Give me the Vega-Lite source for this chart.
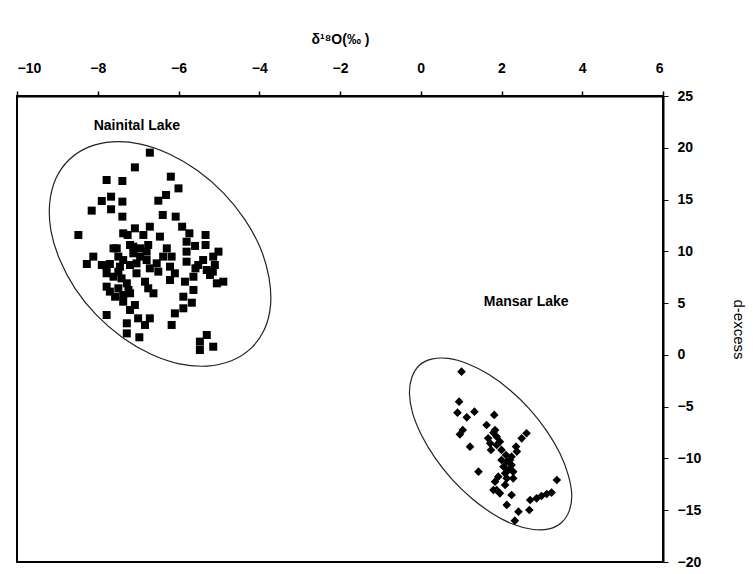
{
  "$schema": "https://vega.github.io/schema/vega-lite/v6.json",
  "width": 646,
  "height": 466,
  "autosize": "none",
  "padding": {"left": 17, "top": 96, "right": 90, "bottom": 12},
  "background": "white",
  "config": {
    "view": {"stroke": "black", "strokeWidth": 2},
    "font": "Liberation Sans"
  },
  "datasets": {
    "ellipse": [
      {"g": "N", "o": 0, "x": -4.20, "y": 0.65},
      {"g": "N", "o": 1, "x": -4.69, "y": -0.57},
      {"g": "N", "o": 2, "x": -5.29, "y": -1.08},
      {"g": "N", "o": 3, "x": -5.98, "y": -0.86},
      {"g": "N", "o": 4, "x": -6.69, "y": 0.09},
      {"g": "N", "o": 5, "x": -7.39, "y": 1.69},
      {"g": "N", "o": 6, "x": -8.03, "y": 3.84},
      {"g": "N", "o": 7, "x": -8.56, "y": 6.40},
      {"g": "N", "o": 8, "x": -8.94, "y": 9.18},
      {"g": "N", "o": 9, "x": -9.16, "y": 12.00},
      {"g": "N", "o": 10, "x": -9.19, "y": 14.67},
      {"g": "N", "o": 11, "x": -9.04, "y": 17.00},
      {"g": "N", "o": 12, "x": -8.71, "y": 18.84},
      {"g": "N", "o": 13, "x": -8.23, "y": 20.06},
      {"g": "N", "o": 14, "x": -7.63, "y": 20.57},
      {"g": "N", "o": 15, "x": -6.94, "y": 20.35},
      {"g": "N", "o": 16, "x": -6.23, "y": 19.40},
      {"g": "N", "o": 17, "x": -5.53, "y": 17.80},
      {"g": "N", "o": 18, "x": -4.89, "y": 15.64},
      {"g": "N", "o": 19, "x": -4.36, "y": 13.08},
      {"g": "N", "o": 20, "x": -3.97, "y": 10.30},
      {"g": "N", "o": 21, "x": -3.76, "y": 7.48},
      {"g": "N", "o": 22, "x": -3.72, "y": 4.81},
      {"g": "N", "o": 23, "x": -3.87, "y": 2.48},
      {"g": "M", "o": 0, "x": 3.49, "y": -16.18},
      {"g": "M", "o": 1, "x": 3.18, "y": -16.80},
      {"g": "M", "o": 2, "x": 2.78, "y": -16.86},
      {"g": "M", "o": 3, "x": 2.29, "y": -16.36},
      {"g": "M", "o": 4, "x": 1.78, "y": -15.33},
      {"g": "M", "o": 5, "x": 1.26, "y": -13.84},
      {"g": "M", "o": 6, "x": 0.77, "y": -11.99},
      {"g": "M", "o": 7, "x": 0.35, "y": -9.92},
      {"g": "M", "o": 8, "x": 0.02, "y": -7.75},
      {"g": "M", "o": 9, "x": -0.20, "y": -5.64},
      {"g": "M", "o": 10, "x": -0.28, "y": -3.73},
      {"g": "M", "o": 11, "x": -0.22, "y": -2.16},
      {"g": "M", "o": 12, "x": -0.04, "y": -1.02},
      {"g": "M", "o": 13, "x": 0.27, "y": -0.41},
      {"g": "M", "o": 14, "x": 0.68, "y": -0.34},
      {"g": "M", "o": 15, "x": 1.16, "y": -0.85},
      {"g": "M", "o": 16, "x": 1.68, "y": -1.88},
      {"g": "M", "o": 17, "x": 2.20, "y": -3.37},
      {"g": "M", "o": 18, "x": 2.69, "y": -5.21},
      {"g": "M", "o": 19, "x": 3.11, "y": -7.29},
      {"g": "M", "o": 20, "x": 3.44, "y": -9.46},
      {"g": "M", "o": 21, "x": 3.65, "y": -11.57},
      {"g": "M", "o": 22, "x": 3.74, "y": -13.48},
      {"g": "M", "o": 23, "x": 3.68, "y": -15.04}
    ],
    "points": [
      {"lake": "Nainital", "x": -6.71, "y": 19.53},
      {"lake": "Nainital", "x": -7.08, "y": 18.11},
      {"lake": "Nainital", "x": -7.78, "y": 16.89},
      {"lake": "Nainital", "x": -7.39, "y": 16.79},
      {"lake": "Nainital", "x": -6.19, "y": 17.21},
      {"lake": "Nainital", "x": -6.00, "y": 16.08},
      {"lake": "Nainital", "x": -7.67, "y": 15.28},
      {"lake": "Nainital", "x": -7.90, "y": 14.86},
      {"lake": "Nainital", "x": -7.39, "y": 14.80},
      {"lake": "Nainital", "x": -6.50, "y": 14.89},
      {"lake": "Nainital", "x": -6.31, "y": 15.44},
      {"lake": "Nainital", "x": -8.15, "y": 13.93},
      {"lake": "Nainital", "x": -7.67, "y": 14.06},
      {"lake": "Nainital", "x": -7.39, "y": 13.35},
      {"lake": "Nainital", "x": -6.39, "y": 13.51},
      {"lake": "Nainital", "x": -6.07, "y": 13.35},
      {"lake": "Nainital", "x": -8.48, "y": 11.58},
      {"lake": "Nainital", "x": -7.37, "y": 11.74},
      {"lake": "Nainital", "x": -7.08, "y": 12.22},
      {"lake": "Nainital", "x": -6.71, "y": 12.38},
      {"lake": "Nainital", "x": -6.87, "y": 11.58},
      {"lake": "Nainital", "x": -5.91, "y": 12.38},
      {"lake": "Nainital", "x": -5.73, "y": 11.74},
      {"lake": "Nainital", "x": -5.33, "y": 11.58},
      {"lake": "Nainital", "x": -7.26, "y": 11.58},
      {"lake": "Nainital", "x": -7.53, "y": 10.29},
      {"lake": "Nainital", "x": -7.20, "y": 10.61},
      {"lake": "Nainital", "x": -6.75, "y": 10.61},
      {"lake": "Nainital", "x": -6.29, "y": 10.29},
      {"lake": "Nainital", "x": -5.80, "y": 10.93},
      {"lake": "Nainital", "x": -5.59, "y": 10.52},
      {"lake": "Nainital", "x": -5.33, "y": 10.61},
      {"lake": "Nainital", "x": -5.01, "y": 9.97},
      {"lake": "Nainital", "x": -8.11, "y": 9.49},
      {"lake": "Nainital", "x": -8.27, "y": 8.78},
      {"lake": "Nainital", "x": -7.90, "y": 8.68},
      {"lake": "Nainital", "x": -7.70, "y": 8.78},
      {"lake": "Nainital", "x": -7.49, "y": 9.49},
      {"lake": "Nainital", "x": -7.12, "y": 9.81},
      {"lake": "Nainital", "x": -6.95, "y": 9.49},
      {"lake": "Nainital", "x": -6.79, "y": 9.16},
      {"lake": "Nainital", "x": -6.38, "y": 9.49},
      {"lake": "Nainital", "x": -6.17, "y": 9.49},
      {"lake": "Nainital", "x": -5.80, "y": 9.00},
      {"lake": "Nainital", "x": -5.39, "y": 9.16},
      {"lake": "Nainital", "x": -5.14, "y": 9.49},
      {"lake": "Nainital", "x": -7.20, "y": 8.68},
      {"lake": "Nainital", "x": -6.71, "y": 8.36},
      {"lake": "Nainital", "x": -6.50, "y": 8.04},
      {"lake": "Nainital", "x": -6.21, "y": 8.52},
      {"lake": "Nainital", "x": -6.09, "y": 7.88},
      {"lake": "Nainital", "x": -5.58, "y": 8.36},
      {"lake": "Nainital", "x": -5.30, "y": 8.20},
      {"lake": "Nainital", "x": -5.10, "y": 8.68},
      {"lake": "Nainital", "x": -7.78, "y": 7.88},
      {"lake": "Nainital", "x": -7.49, "y": 8.04},
      {"lake": "Nainital", "x": -6.83, "y": 7.07},
      {"lake": "Nainital", "x": -6.21, "y": 7.23},
      {"lake": "Nainital", "x": -5.84, "y": 7.07},
      {"lake": "Nainital", "x": -5.63, "y": 7.55},
      {"lake": "Nainital", "x": -5.22, "y": 7.72},
      {"lake": "Nainital", "x": -4.89, "y": 7.07},
      {"lake": "Nainital", "x": -5.05, "y": 6.91},
      {"lake": "Nainital", "x": -7.78, "y": 6.59},
      {"lake": "Nainital", "x": -7.49, "y": 6.43},
      {"lake": "Nainital", "x": -7.24, "y": 6.27},
      {"lake": "Nainital", "x": -6.75, "y": 6.43},
      {"lake": "Nainital", "x": -6.62, "y": 5.95},
      {"lake": "Nainital", "x": -5.63, "y": 6.27},
      {"lake": "Nainital", "x": -7.70, "y": 6.11},
      {"lake": "Nainital", "x": -7.37, "y": 5.78},
      {"lake": "Nainital", "x": -7.20, "y": 5.95},
      {"lake": "Nainital", "x": -7.37, "y": 5.14},
      {"lake": "Nainital", "x": -5.88, "y": 5.62},
      {"lake": "Nainital", "x": -5.67, "y": 5.04},
      {"lake": "Nainital", "x": -7.20, "y": 4.34},
      {"lake": "Nainital", "x": -7.78, "y": 3.85},
      {"lake": "Nainital", "x": -6.09, "y": 4.01},
      {"lake": "Nainital", "x": -5.88, "y": 4.50},
      {"lake": "Nainital", "x": -7.00, "y": 3.53},
      {"lake": "Nainital", "x": -6.71, "y": 3.53},
      {"lake": "Nainital", "x": -7.28, "y": 3.05},
      {"lake": "Nainital", "x": -6.83, "y": 2.89},
      {"lake": "Nainital", "x": -6.17, "y": 2.89},
      {"lake": "Nainital", "x": -7.28, "y": 2.08},
      {"lake": "Nainital", "x": -6.97, "y": 1.70},
      {"lake": "Nainital", "x": -5.30, "y": 1.92},
      {"lake": "Nainital", "x": -5.47, "y": 1.28},
      {"lake": "Nainital", "x": -5.14, "y": 0.79},
      {"lake": "Nainital", "x": -5.47, "y": 0.47},
      {"lake": "Nainital", "x": -7.61, "y": 10.29},
      {"lake": "Nainital", "x": -7.45, "y": 8.52},
      {"lake": "Nainital", "x": -7.04, "y": 8.84},
      {"lake": "Nainital", "x": -7.12, "y": 10.45},
      {"lake": "Nainital", "x": -7.61, "y": 7.55},
      {"lake": "Nainital", "x": -7.41, "y": 7.39},
      {"lake": "Nainital", "x": -7.28, "y": 6.91},
      {"lake": "Nainital", "x": -7.04, "y": 7.88},
      {"lake": "Nainital", "x": -7.57, "y": 5.62},
      {"lake": "Nainital", "x": -7.08, "y": 4.82},
      {"lake": "Nainital", "x": -6.95, "y": 10.29},
      {"lake": "Nainital", "x": -6.79, "y": 9.97},
      {"lake": "Nainital", "x": -7.37, "y": 9.16},
      {"lake": "Nainital", "x": -6.54, "y": 8.84},
      {"lake": "Nainital", "x": -7.78, "y": 8.52},
      {"lake": "Nainital", "x": -5.51, "y": 8.68},
      {"lake": "Nainital", "x": -5.15, "y": 8.04},
      {"lake": "Nainital", "x": -6.46, "y": 11.42},
      {"lake": "Nainital", "x": -5.80, "y": 9.97},
      {"lake": "Mansar", "x": 1.01, "y": -1.62},
      {"lake": "Mansar", "x": 0.95, "y": -4.52},
      {"lake": "Mansar", "x": 0.91, "y": -5.58},
      {"lake": "Mansar", "x": 1.14, "y": -6.03},
      {"lake": "Mansar", "x": 1.33, "y": -5.48},
      {"lake": "Mansar", "x": 1.82, "y": -5.80},
      {"lake": "Mansar", "x": 1.63, "y": -6.77},
      {"lake": "Mansar", "x": 1.04, "y": -7.25},
      {"lake": "Mansar", "x": 0.97, "y": -7.67},
      {"lake": "Mansar", "x": 1.22, "y": -8.86},
      {"lake": "Mansar", "x": 1.84, "y": -7.25},
      {"lake": "Mansar", "x": 1.88, "y": -7.90},
      {"lake": "Mansar", "x": 1.67, "y": -8.06},
      {"lake": "Mansar", "x": 1.72, "y": -8.54},
      {"lake": "Mansar", "x": 1.88, "y": -8.70},
      {"lake": "Mansar", "x": 1.74, "y": -9.18},
      {"lake": "Mansar", "x": 2.00, "y": -9.18},
      {"lake": "Mansar", "x": 2.36, "y": -8.86},
      {"lake": "Mansar", "x": 2.62, "y": -7.57},
      {"lake": "Mansar", "x": 2.50, "y": -8.06},
      {"lake": "Mansar", "x": 2.11, "y": -9.67},
      {"lake": "Mansar", "x": 2.25, "y": -9.83},
      {"lake": "Mansar", "x": 2.00, "y": -10.15},
      {"lake": "Mansar", "x": 2.13, "y": -10.31},
      {"lake": "Mansar", "x": 2.25, "y": -10.63},
      {"lake": "Mansar", "x": 2.05, "y": -10.79},
      {"lake": "Mansar", "x": 2.17, "y": -11.12},
      {"lake": "Mansar", "x": 2.29, "y": -11.28},
      {"lake": "Mansar", "x": 1.43, "y": -11.28},
      {"lake": "Mansar", "x": 1.92, "y": -11.76},
      {"lake": "Mansar", "x": 2.13, "y": -11.92},
      {"lake": "Mansar", "x": 2.29, "y": -11.92},
      {"lake": "Mansar", "x": 1.84, "y": -12.24},
      {"lake": "Mansar", "x": 2.09, "y": -12.56},
      {"lake": "Mansar", "x": 1.88, "y": -13.05},
      {"lake": "Mansar", "x": 1.80, "y": -13.05},
      {"lake": "Mansar", "x": 1.96, "y": -13.37},
      {"lake": "Mansar", "x": 2.25, "y": -13.53},
      {"lake": "Mansar", "x": 2.13, "y": -14.49},
      {"lake": "Mansar", "x": 2.42, "y": -15.14},
      {"lake": "Mansar", "x": 2.33, "y": -16.01},
      {"lake": "Mansar", "x": 2.69, "y": -14.98},
      {"lake": "Mansar", "x": 2.71, "y": -14.01},
      {"lake": "Mansar", "x": 2.87, "y": -13.85},
      {"lake": "Mansar", "x": 2.99, "y": -13.63},
      {"lake": "Mansar", "x": 3.12, "y": -13.43},
      {"lake": "Mansar", "x": 3.24, "y": -13.30},
      {"lake": "Mansar", "x": 3.37, "y": -12.08},
      {"lake": "Mansar", "x": 2.21, "y": -10.15},
      {"lake": "Mansar", "x": 2.09, "y": -11.44},
      {"lake": "Mansar", "x": 2.38, "y": -9.34},
      {"lake": "Mansar", "x": 1.96, "y": -8.38},
      {"lake": "Mansar", "x": 1.80, "y": -7.51}
    ],
    "labels": [
      {"x": -7.03, "y": 22.1, "text": "Nainital Lake"},
      {"x": 2.61, "y": 5.11, "text": "Mansar Lake"}
    ]
  },
  "layer": [
    {
      "data": {"name": "ellipse"},
      "mark": {"type": "line", "interpolate": "cardinal-closed", "stroke": "#222222", "strokeWidth": 1.2},
      "encoding": {
        "x": {"field": "x", "type": "quantitative"},
        "y": {"field": "y", "type": "quantitative"},
        "detail": {"field": "g"},
        "order": {"field": "o", "type": "quantitative"}
      }
    },
    {
      "data": {"name": "points"},
      "mark": {"type": "point", "filled": true, "fill": "black", "opacity": 1, "strokeWidth": 0},
      "encoding": {
        "x": {
          "field": "x", "type": "quantitative",
          "scale": {"domain": [-10, 6], "nice": false, "zero": false},
          "axis": {
            "orient": "top",
            "values": [-10, -8, -6, -4, -2, 0, 2, 4, 6],
            "grid": false,
            "domainColor": "black", "domainWidth": 2,
            "tickColor": "black", "tickSize": 5, "tickWidth": 1.5,
            "labelFont": "Liberation Sans", "labelFontWeight": "bold", "labelFontSize": 14, "labelColor": "black",
            "labelPadding": 16,
            "title": "δ¹⁸O(‰ )",
            "titleFont": "Liberation Sans", "titleFontWeight": "bold", "titleFontSize": 14, "titleColor": "black",
            "titlePadding": 15
          }
        },
        "y": {
          "field": "y", "type": "quantitative",
          "scale": {"domain": [-20, 25], "nice": false, "zero": false},
          "axis": {
            "orient": "right",
            "values": [-20, -15, -10, -5, 0, 5, 10, 15, 20, 25],
            "grid": false,
            "domainColor": "black", "domainWidth": 2,
            "tickColor": "black", "tickSize": 5, "tickWidth": 1,
            "labelFont": "Liberation Sans", "labelFontWeight": "bold", "labelFontSize": 14, "labelColor": "black",
            "labelPadding": 9,
            "title": "d-excess",
            "titleFont": "Liberation Sans", "titleFontWeight": "normal", "titleFontSize": 15, "titleColor": "black",
            "titlePadding": 30
          }
        },
        "shape": {
          "field": "lake", "type": "nominal",
          "scale": {"domain": ["Nainital", "Mansar"], "range": ["square", "diamond"]},
          "legend": null
        },
        "size": {
          "field": "lake", "type": "nominal",
          "scale": {"domain": ["Nainital", "Mansar"], "range": [64, 75]},
          "legend": null
        }
      }
    },
    {
      "data": {"name": "labels"},
      "mark": {"type": "text", "font": "Liberation Sans", "fontWeight": "bold", "fontSize": 14, "color": "black", "align": "center", "baseline": "middle"},
      "encoding": {
        "x": {"field": "x", "type": "quantitative"},
        "y": {"field": "y", "type": "quantitative"},
        "text": {"field": "text"}
      }
    }
  ]
}
